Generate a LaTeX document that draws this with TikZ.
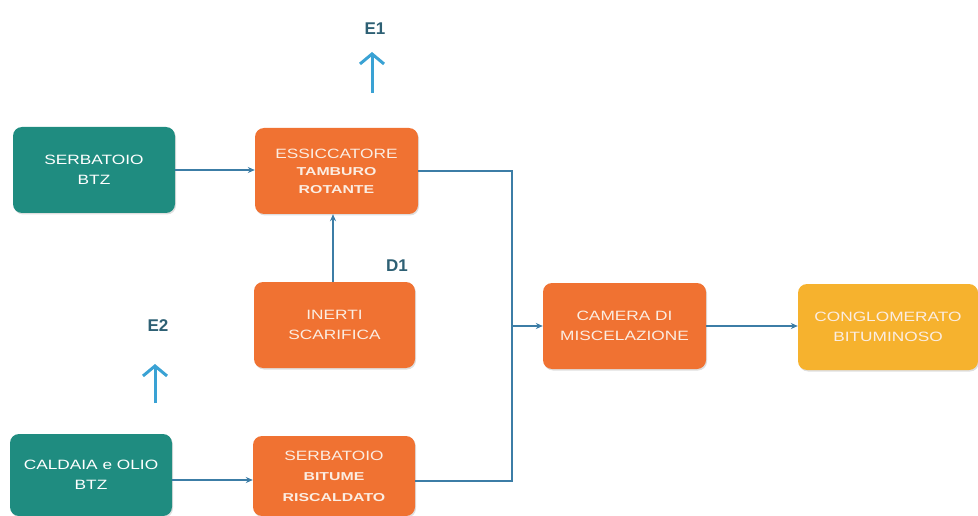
\documentclass[tikz,border=0pt]{standalone}
\usepackage{fontspec}
\setmainfont{Liberation Sans}
\newfontfamily\wideReg[FakeStretch=1.28]{Liberation Sans}
\newfontfamily\wideBold[FakeStretch=1.38]{Liberation Sans Bold}
\usetikzlibrary{arrows.meta,shadows}
\definecolor{tealbox}{HTML}{1F8C80}
\definecolor{orangebox}{HTML}{F07232}
\definecolor{yellowbox}{HTML}{F6B22E}
\definecolor{linkblue}{HTML}{3C7DA6}
\definecolor{upblue}{HTML}{3AA2D4}
\definecolor{labelcol}{HTML}{2E6074}
\definecolor{txtcol}{HTML}{FBEDE2}
\newcommand{\smallBold}{\wideBold\fontsize{11.5}{18}\selectfont}
\tikzset{
  box/.style={rectangle, rounded corners=9pt, minimum width=162pt, minimum height=86pt,
    inner sep=0pt, align=center, text=txtcol,
    font=\wideReg\fontsize{13.5}{19.5}\selectfont,
    drop shadow={shadow xshift=1pt, shadow yshift=-1.5pt, opacity=0.25}},
  tealstyle/.style={box, fill=tealbox, text=white},
  orangestyle/.style={box, fill=orangebox},
  yellowstyle/.style={box, fill=yellowbox},
  link/.style={draw=linkblue, line width=1.3pt, -{Stealth[length=7pt,width=6pt]}},
  plain/.style={draw=linkblue, line width=1.3pt},
  uparrow/.style={draw=upblue, line width=3pt, -{Straight Barb[length=10pt,width=24pt,line width=3pt]}},
  lbl/.style={text=labelcol, font=\fontsize{17}{20}\selectfont\bfseries}
}
\begin{document}
\begin{tikzpicture}[x=1pt,y=-1pt]
\useasboundingbox (0,0) rectangle (978,516);
\node[tealstyle] (serb) at (94,170) {SERBATOIO\\BTZ};
\node[orangestyle, minimum width=163pt] (ess) at (336.5,171) {ESSICCATORE\\[-2pt]{\smallBold TAMBURO}\\[-2pt]{\smallBold ROTANTE}};
\node[orangestyle, minimum width=161pt] (inerti) at (334.5,325) {INERTI\\SCARIFICA};
\node[tealstyle, minimum height=82pt] (cald) at (91,475) {CALDAIA e OLIO\\BTZ};
\node[orangestyle, minimum height=80pt] (bit) at (334,476) {SERBATOIO\\[1pt]{\smallBold BITUME}\\[1pt]{\smallBold RISCALDATO}};
\node[orangestyle, minimum width=163pt] (cam) at (624.5,326) {CAMERA DI\\MISCELAZIONE};
\node[yellowstyle, minimum width=180pt] (cong) at (888,327) {CONGLOMERATO\\BITUMINOSO};

\node[lbl] (e1) at (375,29) {E1};
\node[lbl] (d1) at (397,266) {D1};
\node[lbl] (e2) at (158,326) {E2};
\coordinate (e1s) at (372,93);
\coordinate (e1t) at (372,52);
\coordinate (e2s) at (155,403);
\coordinate (e2t) at (155,364);
\draw[uparrow] (e1s) -- (e1t);
\draw[uparrow] (e2s) -- (e2t);

\coordinate (jx) at (512,326);
\coordinate (caldout) at ([yshift=-5pt]cald.east);
\coordinate (bitout) at ([yshift=-5pt]bit.east);
\coordinate (inup) at ([xshift=-1.5pt]inerti.north);
\draw[link] (serb.east) -- (serb.east -| ess.west);
\draw[link] (caldout) -- (caldout -| bit.west);
\draw[link] (inup) -- (inup |- ess.south);
\draw[plain] (ess.east) -| (jx);
\draw[plain] (bitout) -| (jx);
\draw[link] (jx) -- (cam.west);
\draw[link] (cam.east) -- (cam.east -| cong.west);
\end{tikzpicture}
\end{document}
